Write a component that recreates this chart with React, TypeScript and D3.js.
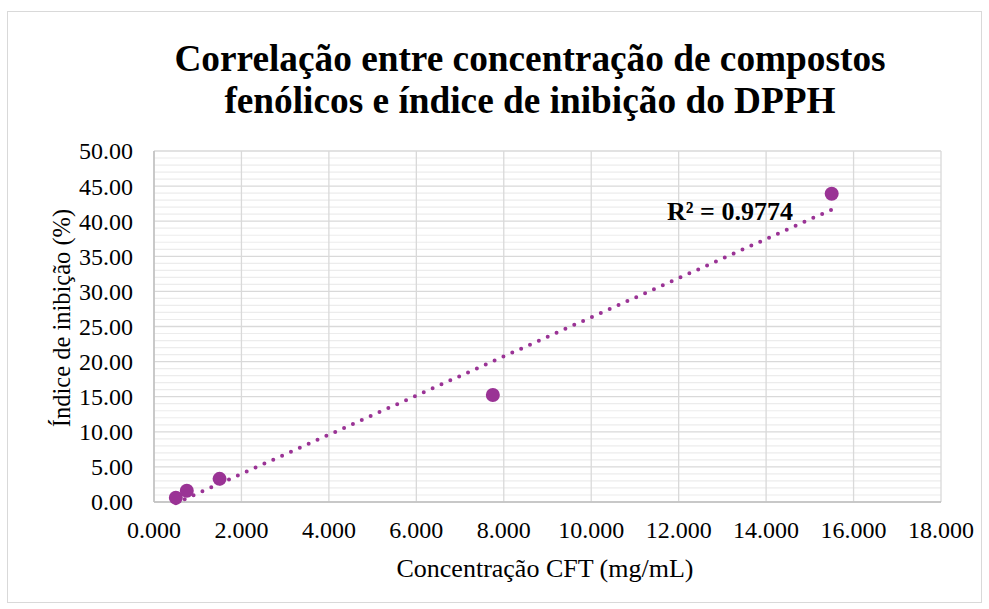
import React from "react";
import * as d3 from "d3";

const concentrations = [0.5, 0.75, 1.5, 7.75, 15.5];
const inhibition = [0.6, 1.6, 3.3, 15.25, 43.9];
const xTicks = [0, 2, 4, 6, 8, 10, 12, 14, 16, 18];
const yTicks = [0, 5, 10, 15, 20, 25, 30, 35, 40, 45, 50];
const titleLines = ["Correlação entre concentração de compostos", "fenólicos e índice de inibição do DPPH"];
const xTitle = "Concentração CFT (mg/mL)";
const yTitle = "Índice de inibição (%)";

const W = 989, H = 609;
const M = { left: 154, right: 941, top: 151, bottom: 502 };
const COLOR = "#9a3395";
const FONT = "'Liberation Serif', 'Times New Roman', serif";

export default function App() {
  const x = d3.scaleLinear().domain([0, 18]).range([M.left, M.right]);
  const y = d3.scaleLinear().domain([0, 50]).range([M.bottom, M.top]);
  const minorY = d3.range(0, 51, 1).filter((v) => v % 5 !== 0);

  // linear regression trendline
  const n = concentrations.length;
  const mx = d3.mean(concentrations)!;
  const my = d3.mean(inhibition)!;
  let sxy = 0, sxx = 0, syy = 0;
  for (let i = 0; i < n; i++) {
    sxy += (concentrations[i] - mx) * (inhibition[i] - my);
    sxx += (concentrations[i] - mx) ** 2;
    syy += (inhibition[i] - my) ** 2;
  }
  const slope = sxy / sxx;
  const intercept = my - slope * mx;
  const r2 = (sxy * sxy) / (sxx * syy);
  const x0 = d3.min(concentrations)!;
  const x1 = d3.max(concentrations)!;
  const line = d3.line<number>().x((d) => x(d)).y((d) => y(slope * d + intercept));

  return (
    <svg width={W} height={H} style={{ position: "absolute", left: 0, top: 0, background: "#fff" }}>
      <rect x={7.5} y={11.5} width={974} height={591} fill="#fff" stroke="#d9d9d9" strokeWidth={1} />
      {minorY.map((v) => (
        <line key={"m" + v} x1={M.left} x2={M.right} y1={y(v)} y2={y(v)} stroke="#ececec" strokeWidth={1.2} />
      ))}
      {yTicks.map((v) => (
        <line key={"y" + v} x1={M.left} x2={M.right} y1={y(v)} y2={y(v)} stroke="#d9d9d9" strokeWidth={1.3} />
      ))}
      {xTicks.map((v) => (
        <line key={"x" + v} x1={x(v)} x2={x(v)} y1={M.top} y2={M.bottom} stroke="#d9d9d9" strokeWidth={1.3} />
      ))}
      <line x1={M.left} x2={M.left} y1={M.top} y2={M.bottom} stroke="#bfbfbf" strokeWidth={1.5} />
      <line x1={M.left} x2={M.right} y1={M.bottom} y2={M.bottom} stroke="#bfbfbf" strokeWidth={1.5} />
      {yTicks.map((v) => (
        <text key={"yl" + v} x={M.left - 21} y={y(v)} dy="0.35em" textAnchor="end" fontFamily={FONT} fontSize={24} fill="#000">
          {v.toFixed(2)}
        </text>
      ))}
      {xTicks.map((v) => (
        <text key={"xl" + v} x={x(v)} y={M.bottom + 36} textAnchor="middle" fontFamily={FONT} fontSize={24} fill="#000">
          {v.toFixed(3)}
        </text>
      ))}
      <path d={line([x0, x1]) || ""} fill="none" stroke={COLOR} strokeWidth={4} strokeDasharray="0 9.7" strokeLinecap="round" />
      {concentrations.map((c, i) => (
        <circle key={"p" + i} cx={x(c)} cy={y(inhibition[i])} r={7} fill={COLOR} />
      ))}
      <text x={667} y={220} fontFamily={FONT} fontSize={26} fontWeight="bold" fill="#000">
        R² = {r2.toFixed(4)}
      </text>
      {titleLines.map((t, i) => (
        <text key={"t" + i} x={530} y={71 + i * 42} textAnchor="middle" fontFamily={FONT} fontSize={37.3} fontWeight="bold" fill="#000">
          {t}
        </text>
      ))}
      <text x={545} y={577} textAnchor="middle" fontFamily={FONT} fontSize={26} fill="#000">
        {xTitle}
      </text>
      <text transform={`translate(70,318) rotate(-90)`} textAnchor="middle" fontFamily={FONT} fontSize={24.5} fill="#000">
        {yTitle}
      </text>
    </svg>
  );
}
